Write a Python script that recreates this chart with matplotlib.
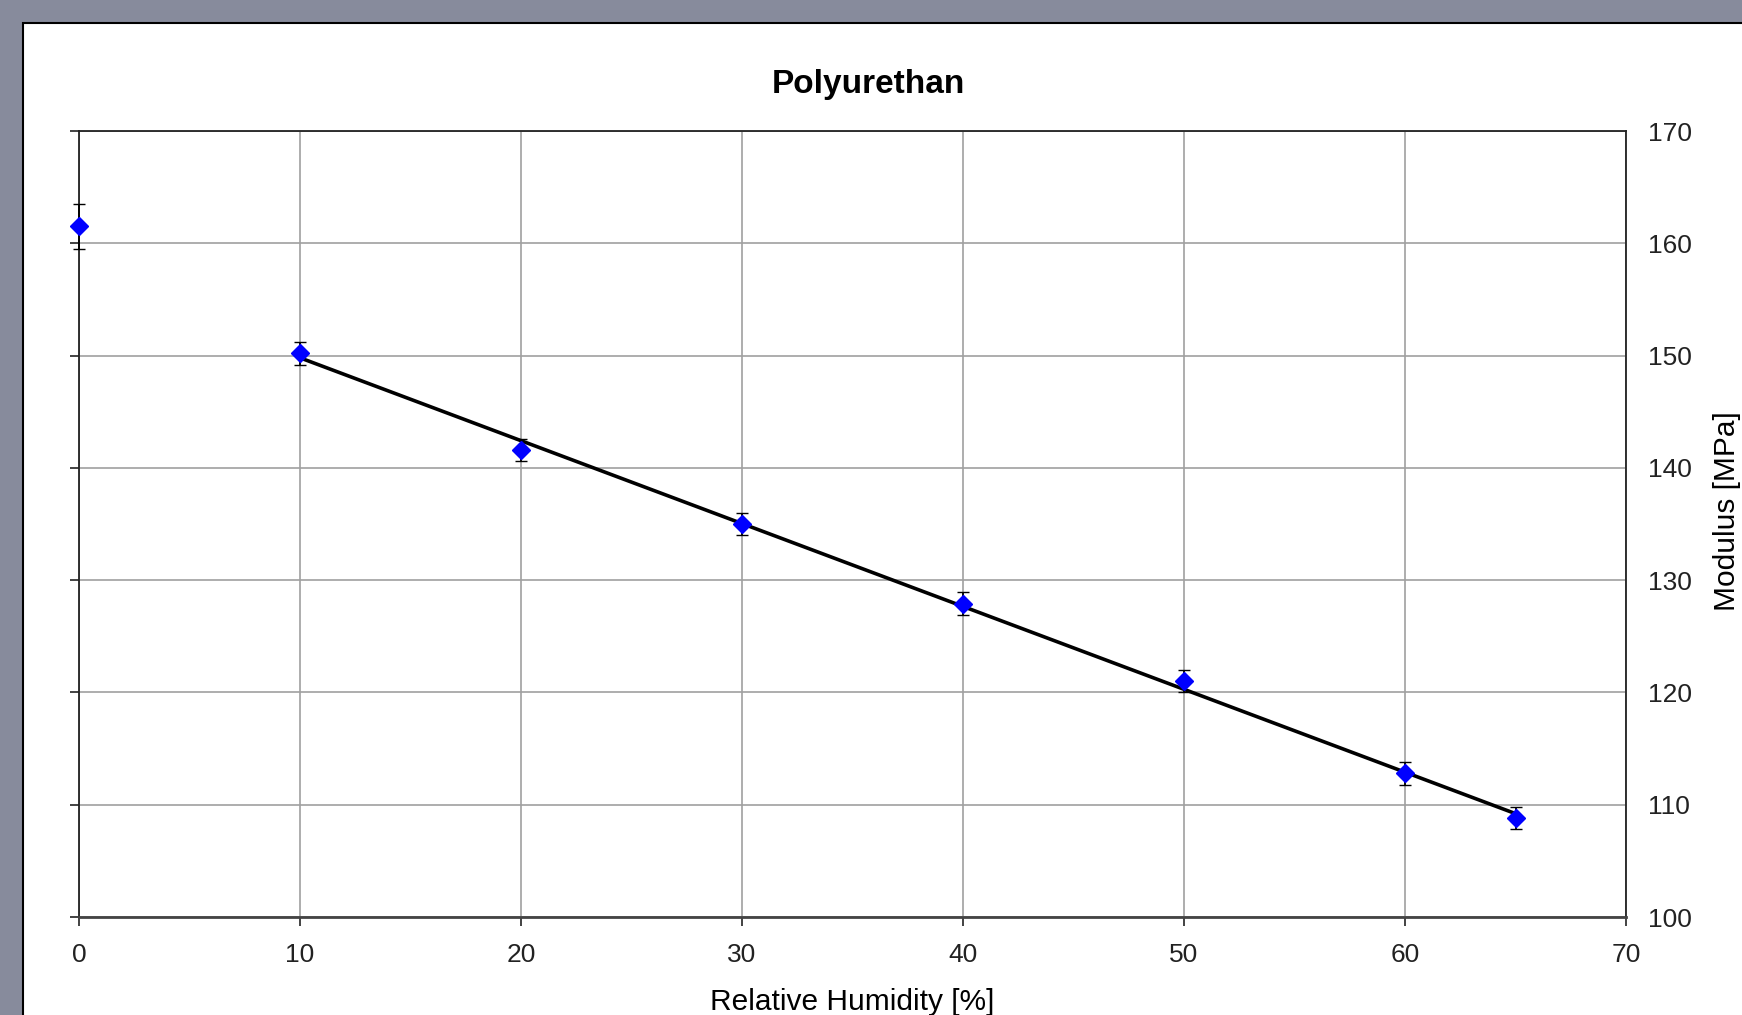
import numpy as np
import matplotlib
matplotlib.use("Agg")
import matplotlib.pyplot as plt
from matplotlib.patches import Rectangle

# ---- data ----
humidity = [0, 10, 20, 30, 40, 50, 60, 65]
modulus = [161.5, 150.2, 141.6, 135.0, 127.9, 121.0, 112.8, 108.8]
modulus_err = [2.0, 1.0, 1.0, 1.0, 1.0, 1.0, 1.0, 1.0]
fit_x = [10, 65]          # range of linear trend line
x_ticks = [0, 10, 20, 30, 40, 50, 60, 70]
y_ticks = [100, 110, 120, 130, 140, 150, 160, 170]
title = "Polyurethan"
xlabel = "Relative Humidity [%]"
ylabel = "Modulus [MPa]"

plt.rcParams['font.family'] = ['Liberation Sans', 'DejaVu Sans']

W, H = 1742, 1015
fig = plt.figure(figsize=(W / 100, H / 100), dpi=100)
fig.patch.set_facecolor('#878b9c')

# white chart panel with black border
panel = Rectangle((23 / W, -0.05), 1.2, 1 - 23 / H + 0.05, transform=fig.transFigure,
                  facecolor='white', edgecolor='black', linewidth=1.5, zorder=-10)
fig.patches.append(panel)

left, right, top, bottom = 79, 1626, 131, 917
ax = fig.add_axes([left / W, 1 - bottom / H, (right - left) / W, (bottom - top) / H])
ax.set_zorder(5)
ax.set_facecolor('white')

ax.set_xlim(0, 70)
ax.set_ylim(100, 170)
ax.set_xticks(x_ticks)
ax.set_yticks(y_ticks)
ax.grid(True, color='#a0a0a0', linewidth=1.2, zorder=1)
ax.set_axisbelow(True)

for s in ['left', 'top', 'right']:
    ax.spines[s].set_color('#222222')
    ax.spines[s].set_linewidth(1.3)
ax.spines['bottom'].set_color('#444444')
ax.spines['bottom'].set_linewidth(2.0)

ax.tick_params(axis='x', direction='out', length=6.5, width=1.2, color='#222222',
               labelsize=19, labelcolor='#222222', pad=12)
ax.tick_params(axis='y', direction='out', left=True, right=False, labelleft=False,
               labelright=True, length=6.5, width=1.2, color='#222222',
               labelsize=19, labelcolor='#222222', pad=9)

# data points with error bars
ax.errorbar(humidity, modulus, yerr=modulus_err, fmt='D', color='blue', markersize=9,
            markeredgecolor='blue', markeredgewidth=1.0,
            ecolor='black', elinewidth=1.3, capsize=4.5, capthick=1.3, zorder=4,
            clip_on=False)

# linear trend line over the selected range
hx = np.array(humidity, dtype=float)
hy = np.array(modulus, dtype=float)
mask = (hx >= fit_x[0]) & (hx <= fit_x[1])
coef = np.polyfit(hx[mask], hy[mask], 1)
fx = np.array(fit_x, dtype=float)
ax.plot(fx, np.polyval(coef, fx), color='black', linewidth=2.6, zorder=3)

ax.set_xlabel(xlabel, fontsize=21.5, labelpad=15)
ax.yaxis.set_label_position('right')
ax.set_ylabel(ylabel, fontsize=21.5)
ax.yaxis.set_label_coords(1.0565, 0.5165)

fig.text(868 / W, 1 - 85 / H, title, fontsize=24, fontweight='bold', ha='center', va='center')

fig.savefig('out.png', dpi=100, facecolor=fig.get_facecolor())
